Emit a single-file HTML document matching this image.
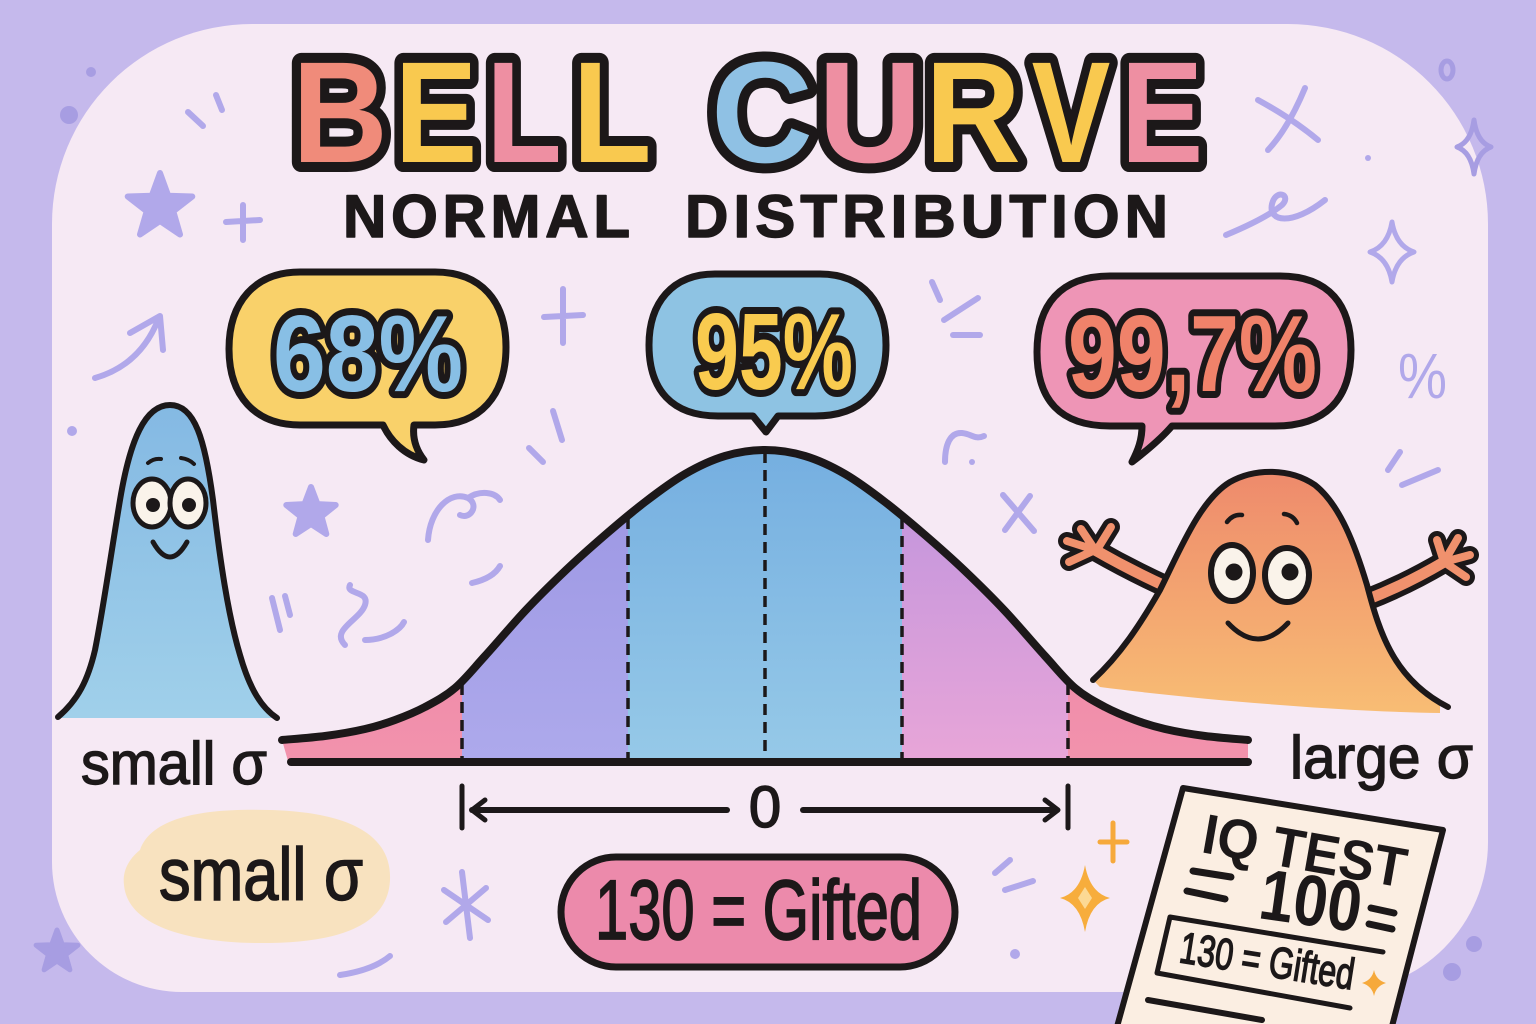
<!DOCTYPE html>
<html>
<head>
<meta charset="utf-8">
<style>
html,body{margin:0;padding:0;width:1536px;height:1024px;overflow:hidden;background:#c5b9ec;}
svg{display:block;}
</style>
</head>
<body>
<svg width="1536" height="1024" viewBox="0 0 1536 1024" xmlns="http://www.w3.org/2000/svg">
<defs>
  <linearGradient id="gBlue" x1="0" y1="0" x2="0" y2="1"><stop offset="0" stop-color="#74aee0"/><stop offset="1" stop-color="#97cae8"/></linearGradient>
  <linearGradient id="gPurL" x1="0" y1="0" x2="0" y2="1"><stop offset="0" stop-color="#9a94e2"/><stop offset="1" stop-color="#aeaaec"/></linearGradient>
  <linearGradient id="gPurR" x1="0" y1="0" x2="0" y2="1"><stop offset="0" stop-color="#bb92de"/><stop offset="1" stop-color="#e9a6d8"/></linearGradient>
  <linearGradient id="gPink" x1="0" y1="0" x2="0" y2="1"><stop offset="0" stop-color="#ec7ea2"/><stop offset="1" stop-color="#f293ad"/></linearGradient>
  <linearGradient id="gChar1" x1="0" y1="0" x2="0" y2="1"><stop offset="0" stop-color="#84b9e3"/><stop offset="1" stop-color="#a0d0ea"/></linearGradient>
  <linearGradient id="gChar2" x1="0" y1="0" x2="0" y2="1"><stop offset="0" stop-color="#ee8a6c"/><stop offset="1" stop-color="#f8bd74"/></linearGradient>
  <clipPath id="under">
    <path d="M282,740 C289.2,739.3 311.2,737.8 325,736 C338.8,734.2 353.3,731.7 365,729 C376.7,726.3 385,723.7 395,720 C405,716.3 415,712.3 425,707 C435,701.7 445,696.5 455,688 C465,679.5 473.3,668.8 485,656 C496.7,643.2 511.7,625.2 525,611 C538.3,596.8 551.7,583.7 565,571 C578.3,558.3 591.7,546.5 605,535 C618.3,523.5 631.7,512.2 645,502 C658.3,491.8 671.7,481.7 685,474 C698.3,466.3 711.7,460 725,456 C738.3,452 751.7,450 765,450 C778.3,450 791.7,452 805,456 C818.3,460 831.7,466.3 845,474 C858.3,481.7 871.7,491.8 885,502 C898.3,512.2 911.7,523.5 925,535 C938.3,546.5 951.7,558.3 965,571 C978.3,583.7 991.7,596.8 1005,611 C1018.3,625.2 1033.3,643.2 1045,656 C1056.7,668.8 1065,679.5 1075,688 C1085,696.5 1095,701.7 1105,707 C1115,712.3 1125,716.3 1135,720 C1145,723.7 1153.3,726.3 1165,729 C1176.7,731.7 1191.2,734.2 1205,736 C1218.8,737.8 1240.8,739.3 1248,740 L1248,761 L288,761 Z"/>
  </clipPath>
</defs>

<!-- background -->
<rect x="0" y="0" width="1536" height="1024" fill="#c5b9ec"/>
<!-- panel -->
<path d="M252,24 H1288 A200,200 0 0 1 1488,224 V842 A150,150 0 0 1 1338,992 H182 A130,130 0 0 1 52,862 V224 A200,200 0 0 1 252,24 Z" fill="#f6e9f4"/>

<!-- decorations (lavender doodles) -->
<g fill="none" stroke="#b1a8ea" stroke-width="6" stroke-linecap="round" stroke-linejoin="round">
  <path d="M216,95 L222,110"/>
  <path d="M188,112 L203,126"/>
  <path d="M563,289 L563,343 M544,317 L583,315"/>
  <path d="M243,205 L243,240 M226,222 L260,220"/>
  <path d="M95,378 Q140,365 158,320"/>
  <path d="M130,333 L160,316 L163,350"/>
  <path d="M553,411 L562,440"/>
  <path d="M529,448 L543,462"/>
  <path d="M932,282 L940,300"/>
  <path d="M944,320 L978,298"/>
  <path d="M953,335 L980,335"/>
  <path d="M1226,235 C1250,225 1270,215 1282,205 C1292,195 1276,188 1272,204 C1268,222 1292,226 1325,200"/>
  <path d="M1258,100 C1280,112 1300,125 1318,140"/>
  <path d="M1305,88 C1295,112 1282,135 1268,150"/>
  <path d="M1392,222 Q1396,246 1414,252 Q1396,258 1392,282 Q1388,258 1370,252 Q1388,246 1392,222 Z" stroke-width="5"/>
  <path d="M945,462 C945,445 950,432 962,433 C972,434 975,440 984,436"/>
  <path d="M1388,470 L1400,452"/>
  <path d="M1402,485 L1438,470"/>
  <path d="M428,540 C430,510 450,490 468,498 C480,505 470,520 460,515 M468,498 C480,490 495,492 500,500"/>
  <path d="M472,583 C485,580 495,575 500,566"/>
  <path d="M345,645 C330,630 360,620 365,605 C370,590 345,595 350,585 M365,640 C385,640 400,630 404,622"/>
  <path d="M272,598 L280,630"/>
  <path d="M285,596 L290,615"/>
  <path d="M1003,495 L1034,531 M1030,496 L1005,530"/>
  <path d="M462,872 L470,938 M444,890 L488,920 M446,922 L486,888"/>
  <path d="M340,975 C360,972 378,966 390,956"/>
  <path d="M995,873 L1010,860"/>
  <path d="M1005,890 L1033,881"/>
</g>
<g fill="#b1a8ea" stroke="#b1a8ea" stroke-width="6" stroke-linejoin="round">
  <polygon points="160,173 168.2,195.7 192.3,196.5 173.3,211.3 180,234.5 160,221 140,234.5 146.7,211.3 127.7,196.5 151.8,195.7"/>
  <polygon points="311,487 317.5,504.1 335.7,505 321.5,516.4 326.3,534 311,524 295.7,534 300.5,516.4 286.3,505 304.5,504.1"/>
  <circle cx="1368" cy="158" r="3" stroke="none"/>
  <circle cx="972" cy="462" r="3" stroke="none"/>
  <circle cx="72" cy="431" r="5" stroke="none"/>
  <circle cx="1015" cy="954" r="5" stroke="none"/>
</g>
<g fill="#a79de2" stroke="#a79de2" stroke-width="5" stroke-linejoin="round">
  <circle cx="91" cy="72" r="5" stroke="none"/>
  <circle cx="69" cy="115" r="9" stroke="none"/>
  <polygon points="57,930 62.3,944.7 77.9,945.2 65.6,954.8 69.9,969.8 57,961 44.1,969.8 48.4,954.8 36.1,945.2 51.7,944.7"/>
  <ellipse cx="1447" cy="70" rx="6" ry="9" fill="none"/>
  <path d="M1474,120 Q1477,142 1491,147 Q1477,152 1474,174 Q1471,152 1457,147 Q1471,142 1474,120 Z" fill="none"/>
  <circle cx="1474" cy="944" r="8" stroke="none"/>
  <circle cx="1452" cy="972" r="9" stroke="none"/>
</g>
<text x="1398" y="398" font-family="Liberation Sans, sans-serif" font-size="64" fill="#b1a8ea" textLength="49" lengthAdjust="spacingAndGlyphs">%</text>

<!-- Title -->
<g font-family="Liberation Sans, sans-serif" font-weight="bold" font-size="144" stroke="#1c1819" stroke-width="20" stroke-linejoin="round" paint-order="stroke" text-anchor="middle">
  <text transform="translate(340,162) scale(0.92,1)" fill="#f08b7a">B</text>
  <text transform="translate(436,162) scale(0.86,1)" fill="#f9c94f">E</text>
  <text transform="translate(524,162) scale(0.86,1)" fill="#ee8fa2">L</text>
  <text transform="translate(612,162) scale(0.9,1)" fill="#f9c94f">L</text>
  <text transform="translate(762,162) scale(0.98,1)" fill="#8fc1e4">C</text>
  <text transform="translate(870,162) scale(1.0,1)" fill="#ee8fa2">U</text>
  <text transform="translate(973,162) scale(0.92,1)" fill="#f9c94f">R</text>
  <text transform="translate(1071,162) scale(0.82,1)" fill="#f9c94f">V</text>
  <text transform="translate(1162,162) scale(0.86,1)" fill="#ee8fa2">E</text>
</g>
<g font-family="Liberation Sans, sans-serif" font-weight="bold" font-size="60" fill="#1c1819" stroke="#1c1819" stroke-width="1.5" stroke-linejoin="round">
  <text x="343" y="237" textLength="287" lengthAdjust="spacing">NORMAL</text>
  <text x="685" y="237" textLength="483" lengthAdjust="spacing">DISTRIBUTION</text>
</g>

<!-- Speech bubbles -->
<g stroke="#1c1819" stroke-width="7" stroke-linejoin="round">
  <path d="M300,272 H435 C482,272 506,302 506,347 C506,396 480,425 435,425 H414 C412,440 417,451 424,460 C404,455 390,440 383,425 H300 C255,425 229,396 229,349 C229,302 255,272 300,272 Z" fill="#f9d16a"/>
  <path d="M715,274 H820 C865,274 886,305 886,345 C886,390 862,416 815,416 H778 L766,432 L753,416 H718 C672,416 649,390 649,345 C649,303 672,274 715,274 Z" fill="#8ec3e3"/>
  <path d="M1110,276 H1280 C1330,276 1351,306 1351,350 C1351,400 1325,426 1275,426 H1172 C1160,440 1145,452 1132,462 C1138,450 1142,440 1142,426 H1110 C1060,426 1037,400 1037,352 C1037,305 1060,276 1110,276 Z" fill="#ee95b6"/>
</g>
<g font-family="Liberation Sans, sans-serif" font-weight="bold" font-size="109" stroke="#1c1819" stroke-width="14" stroke-linejoin="round" paint-order="stroke">
  <text x="273" y="391" textLength="190" lengthAdjust="spacingAndGlyphs" fill="#88bfe5">68%</text>
  <text x="695" y="389" textLength="158" lengthAdjust="spacingAndGlyphs" fill="#f9cb4f">95%</text>
  <text x="1068" y="391" textLength="249" lengthAdjust="spacingAndGlyphs" fill="#f0826a">99,7%</text>
</g>

<!-- Bell curve fills -->
<g clip-path="url(#under)">
  <rect x="260" y="440" width="202" height="330" fill="url(#gPink)"/>
  <rect x="462" y="440" width="166" height="330" fill="url(#gPurL)"/>
  <rect x="628" y="440" width="274" height="330" fill="url(#gBlue)"/>
  <rect x="902" y="440" width="166" height="330" fill="url(#gPurR)"/>
  <rect x="1068" y="440" width="200" height="330" fill="url(#gPink)"/>
</g>
<g stroke="#1c1819" stroke-width="3.5" stroke-dasharray="11 7" fill="none">
  <line x1="462" y1="684" x2="462" y2="758"/>
  <line x1="628" y1="518" x2="628" y2="758"/>
  <line x1="765" y1="452" x2="765" y2="758"/>
  <line x1="902" y1="518" x2="902" y2="758"/>
  <line x1="1068" y1="684" x2="1068" y2="758"/>
</g>
<path d="M282,740 C289.2,739.3 311.2,737.8 325,736 C338.8,734.2 353.3,731.7 365,729 C376.7,726.3 385,723.7 395,720 C405,716.3 415,712.3 425,707 C435,701.7 445,696.5 455,688 C465,679.5 473.3,668.8 485,656 C496.7,643.2 511.7,625.2 525,611 C538.3,596.8 551.7,583.7 565,571 C578.3,558.3 591.7,546.5 605,535 C618.3,523.5 631.7,512.2 645,502 C658.3,491.8 671.7,481.7 685,474 C698.3,466.3 711.7,460 725,456 C738.3,452 751.7,450 765,450 C778.3,450 791.7,452 805,456 C818.3,460 831.7,466.3 845,474 C858.3,481.7 871.7,491.8 885,502 C898.3,512.2 911.7,523.5 925,535 C938.3,546.5 951.7,558.3 965,571 C978.3,583.7 991.7,596.8 1005,611 C1018.3,625.2 1033.3,643.2 1045,656 C1056.7,668.8 1065,679.5 1075,688 C1085,696.5 1095,701.7 1105,707 C1115,712.3 1125,716.3 1135,720 C1145,723.7 1153.3,726.3 1165,729 C1176.7,731.7 1191.2,734.2 1205,736 C1218.8,737.8 1240.8,739.3 1248,740" fill="none" stroke="#1c1819" stroke-width="8" stroke-linecap="round"/>
<line x1="291" y1="762" x2="1248" y2="762" stroke="#1c1819" stroke-width="8" stroke-linecap="round"/>

<!-- arrow row -->
<g stroke="#1c1819" stroke-width="5" stroke-linecap="round" stroke-linejoin="round" fill="none">
  <line x1="462" y1="786" x2="462" y2="828"/>
  <line x1="1068" y1="786" x2="1068" y2="828"/>
  <line x1="472" y1="810" x2="727" y2="810" stroke-width="6"/>
  <polyline points="485,800 472,810 485,820"/>
  <line x1="803" y1="810" x2="1057" y2="810" stroke-width="6"/>
  <polyline points="1045,800 1058,810 1045,820"/>
</g>
<text x="765" y="827" font-family="Liberation Sans, sans-serif" font-size="58" text-anchor="middle" fill="#1c1819" stroke="#1c1819" stroke-width="1.5">0</text>

<!-- left blue character -->
<path d="M58,717 C78,700 88,680 95,650 C103,610 110,560 120,500 C130,440 145,405 170,405 C195,405 205,440 213,500 C220,560 228,615 240,655 C250,690 262,708 277,718 L270,718 L62,718 Z" fill="url(#gChar1)"/>
<path d="M58,717 C78,700 88,680 95,650 C103,610 110,560 120,500 C130,440 145,405 170,405 C195,405 205,440 213,500 C220,560 228,615 240,655 C250,690 262,708 277,718" fill="none" stroke="#1c1819" stroke-width="6" stroke-linecap="round"/>
<g stroke="#1c1819" stroke-width="5" stroke-linecap="round">
  <ellipse cx="152" cy="503" rx="19" ry="24" fill="#faf3ea"/>
  <ellipse cx="188" cy="503" rx="18" ry="24" fill="#faf3ea"/>
  <circle cx="153" cy="505" r="7" fill="#1c1819" stroke="none"/>
  <circle cx="189" cy="505" r="7" fill="#1c1819" stroke="none"/>
  <path d="M148,463 Q154,458 161,459" fill="none" stroke-width="4"/>
  <path d="M181,458 Q189,459 194,464" fill="none" stroke-width="4"/>
  <path d="M153,542 Q170,572 187,542" fill="none"/>
</g>

<!-- right orange character: arms -->
<g fill="none" stroke-linecap="round" stroke-linejoin="round">
  <g stroke="#1c1819" stroke-width="22">
    <path d="M1165,586 Q1130,570 1095,550"/>
    <path d="M1366,600 Q1405,585 1444,562"/>
  </g>
  <g stroke="#1c1819" stroke-width="18">
    <path d="M1095,550 L1081,529 M1095,550 L1067,541 M1095,550 L1069,562 M1098,548 L1111,527"/>
    <path d="M1444,562 L1437,540 M1444,562 L1458,538 M1444,562 L1470,555 M1444,562 L1466,577"/>
  </g>
  <g stroke="#f0916d" stroke-width="11">
    <path d="M1165,586 Q1130,570 1095,550"/>
    <path d="M1366,600 Q1405,585 1444,562"/>
  </g>
  <g stroke="#f0916d" stroke-width="8">
    <path d="M1095,550 L1081,529 M1095,550 L1067,541 M1095,550 L1069,562 M1098,548 L1111,527"/>
    <path d="M1444,562 L1437,540 M1444,562 L1458,538 M1444,562 L1470,555 M1444,562 L1466,577"/>
  </g>
</g>
<path d="M1093,680 C1120,655 1140,625 1160,590 C1180,550 1200,500 1230,482 C1255,468 1290,468 1315,485 C1340,505 1355,545 1367,585 C1380,635 1395,680 1440,705 L1440,713 C1350,712 1200,700 1100,687 Z" fill="url(#gChar2)"/>
<path d="M1093,680 C1120,655 1140,625 1160,590 C1180,550 1200,500 1230,482 C1255,468 1290,468 1315,485 C1340,505 1355,545 1367,585 C1380,635 1395,680 1448,707" fill="none" stroke="#1c1819" stroke-width="6" stroke-linecap="round"/>
<g stroke="#1c1819" stroke-width="6" stroke-linecap="round">
  <ellipse cx="1232" cy="573" rx="21" ry="28" fill="#faf3ea"/>
  <ellipse cx="1287" cy="575" rx="22" ry="27" fill="#faf3ea"/>
  <circle cx="1234" cy="572" r="8.5" fill="#1c1819" stroke="none"/>
  <circle cx="1290" cy="572" r="8.5" fill="#1c1819" stroke="none"/>
  <path d="M1227,522 Q1233,514 1242,515" fill="none" stroke-width="4.5"/>
  <path d="M1284,514 Q1293,515 1297,523" fill="none" stroke-width="4.5"/>
  <path d="M1228,623 Q1258,655 1288,623" fill="none" stroke-width="5"/>
</g>

<!-- labels -->
<g font-family="Liberation Sans, sans-serif" fill="#1c1819" stroke="#1c1819" stroke-width="1.4">
  <text x="81" y="784" font-size="60" textLength="186" lengthAdjust="spacingAndGlyphs">small σ</text>
  <text x="1290" y="778" font-size="60" textLength="183" lengthAdjust="spacingAndGlyphs">large σ</text>
</g>

<!-- beige blob -->
<path d="M140,850 C152,815 210,808 270,810 C340,812 392,830 390,880 C388,925 340,942 270,943 C200,944 128,930 124,885 C122,870 130,858 140,850 Z" fill="#f8e2bf"/>
<text x="159" y="900" font-family="Liberation Sans, sans-serif" font-size="74" fill="#1c1819" stroke="#1c1819" stroke-width="1.6" textLength="204" lengthAdjust="spacingAndGlyphs">small σ</text>

<!-- pill -->
<rect x="561" y="857" width="394" height="110" rx="55" ry="55" fill="#ec8aab" stroke="#1c1819" stroke-width="7"/>
<text x="595" y="939" font-family="Liberation Sans, sans-serif" font-size="84" fill="#1c1819" stroke="#1c1819" stroke-width="1.8" textLength="327" lengthAdjust="spacingAndGlyphs">130 = Gifted</text>

<!-- orange sparkles -->
<g stroke="#f6a93b" stroke-width="5" stroke-linecap="round">
  <line x1="1113" y1="823" x2="1113" y2="861"/>
  <line x1="1100" y1="842" x2="1127" y2="842"/>
</g>
<path d="M1085,865 Q1090,893 1110,898 Q1090,903 1085,932 Q1080,903 1060,898 Q1080,893 1085,865 Z" fill="#f7ad3c"/>
<path d="M1085,887 L1092,898 L1085,909 L1078,898 Z" fill="#fcd994"/>

<!-- IQ paper -->
<polygon points="1183,788 1443,830 1390,1034 1115,1034" fill="#fbeee2" stroke="#1c1819" stroke-width="6" stroke-linejoin="round"/>
<g font-family="Liberation Sans, sans-serif" font-weight="bold" fill="#1c1819">
  <text x="1200" y="852" font-size="56" transform="rotate(10 1200 852)" textLength="206" lengthAdjust="spacingAndGlyphs">IQ TEST</text>
  <text x="1257" y="918" font-size="72" transform="rotate(8 1257 918)" textLength="102" lengthAdjust="spacingAndGlyphs">100</text>
  <text x="1178" y="962" font-size="44" font-weight="normal" stroke="#1c1819" stroke-width="1.5" transform="rotate(9 1178 962)" textLength="176" lengthAdjust="spacingAndGlyphs">130 = Gifted</text>
</g>
<g stroke="#1c1819" stroke-width="7" stroke-linecap="round" fill="none">
  <line x1="1193" y1="871" x2="1231" y2="877"/>
  <line x1="1187" y1="891" x2="1225" y2="899"/>
  <line x1="1371" y1="908" x2="1394" y2="913"/>
  <line x1="1369" y1="924" x2="1392" y2="929"/>
  <polyline points="1383,952 1170,917 1157,973 1350,1008" stroke-width="5" stroke-linejoin="round"/>
  <line x1="1148" y1="1000" x2="1262" y2="1020" stroke-width="6"/>
</g>
<path d="M1374,970 Q1376,980 1386,983 Q1376,986 1374,996 Q1372,986 1362,983 Q1372,980 1374,970 Z" fill="#f6a93b"/>
</svg>
</body>
</html>
